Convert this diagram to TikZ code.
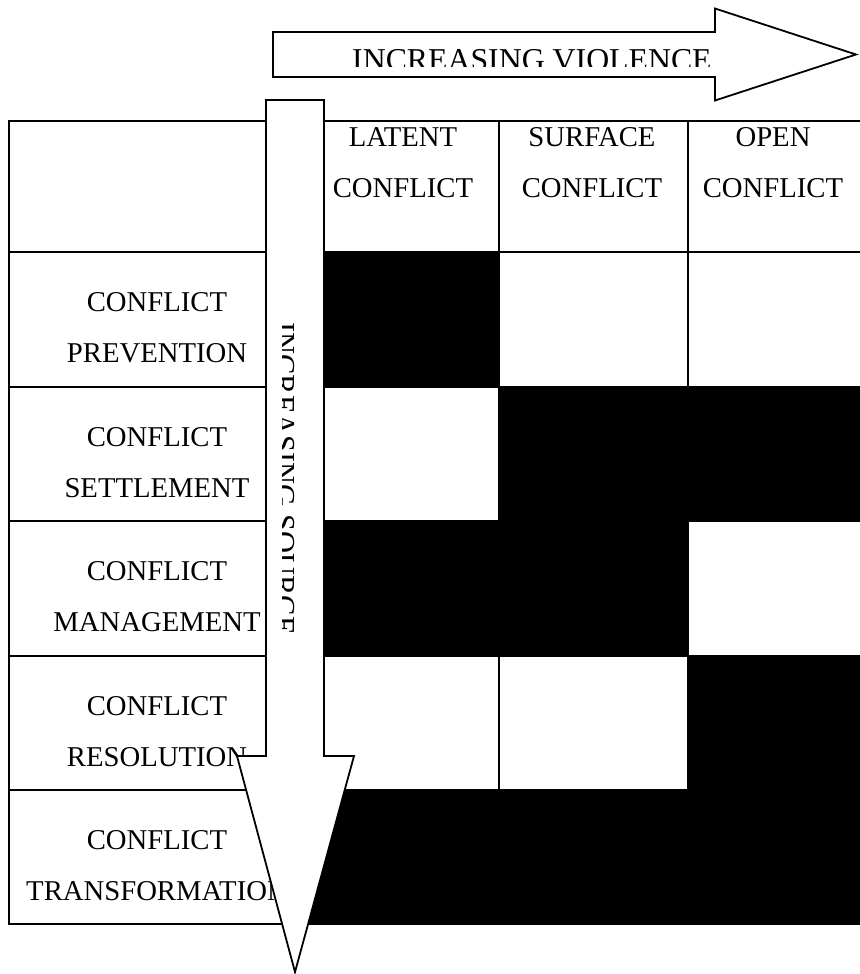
\documentclass[tikz,border=0pt]{standalone}
\usepackage{fontspec}
\setmainfont{Liberation Serif}
\usepackage{tikz}

\begin{document}
\begin{tikzpicture}[x=1pt, y=-1pt,
  cellnode/.style={rectangle, draw=black, line width=2.2pt, fill=white, anchor=north west, inner sep=0pt},
  darkcell/.style={cellnode, fill=black},
  celltext/.style={anchor=north, align=center, inner sep=0pt, font={\fontsize{28.7}{51}\selectfont}},
  blockarrow/.style={draw=black, line width=1.8pt, fill=white, line join=miter},
  arrowtext/.style={anchor=north west, inner sep=0pt, font={\fontsize{31.8}{36}\selectfont}}]
\useasboundingbox (0,0) rectangle (859,974);

\node[cellnode, minimum width=298pt, minimum height=131pt] (head-lab) at (8,120) {};
\node[cellnode, minimum width=192pt, minimum height=131pt] (head-lat) at (306,120) {};
\node[cellnode, minimum width=189pt, minimum height=131pt] (head-sur) at (498,120) {};
\node[cellnode, minimum width=173pt, minimum height=131pt] (head-opn) at (687,120) {};

\node[cellnode, minimum width=298pt, minimum height=135pt] (prev-lab) at (8,251) {};
\node[darkcell, minimum width=192pt, minimum height=135pt] (prev-lat) at (306,251) {};
\node[cellnode, minimum width=189pt, minimum height=135pt] (prev-sur) at (498,251) {};
\node[cellnode, minimum width=173pt, minimum height=135pt] (prev-opn) at (687,251) {};

\node[cellnode, minimum width=298pt, minimum height=134pt] (sett-lab) at (8,386) {};
\node[cellnode, minimum width=192pt, minimum height=134pt] (sett-lat) at (306,386) {};
\node[darkcell, minimum width=189pt, minimum height=134pt] (sett-sur) at (498,386) {};
\node[darkcell, minimum width=173pt, minimum height=134pt] (sett-opn) at (687,386) {};

\node[cellnode, minimum width=298pt, minimum height=135pt] (mana-lab) at (8,520) {};
\node[darkcell, minimum width=192pt, minimum height=135pt] (mana-lat) at (306,520) {};
\node[darkcell, minimum width=189pt, minimum height=135pt] (mana-sur) at (498,520) {};
\node[cellnode, minimum width=173pt, minimum height=135pt] (mana-opn) at (687,520) {};

\node[cellnode, minimum width=298pt, minimum height=134pt] (reso-lab) at (8,655) {};
\node[cellnode, minimum width=192pt, minimum height=134pt] (reso-lat) at (306,655) {};
\node[cellnode, minimum width=189pt, minimum height=134pt] (reso-sur) at (498,655) {};
\node[darkcell, minimum width=173pt, minimum height=134pt] (reso-opn) at (687,655) {};

\node[cellnode, minimum width=298pt, minimum height=134pt] (tran-lab) at (8,789) {};
\node[darkcell, minimum width=192pt, minimum height=134pt] (tran-lat) at (306,789) {};
\node[darkcell, minimum width=189pt, minimum height=134pt] (tran-sur) at (498,789) {};
\node[darkcell, minimum width=173pt, minimum height=134pt] (tran-opn) at (687,789) {};

\node[celltext] (lat-title) at (403,127) {LATENT\\CONFLICT};
\node[celltext] (sur-title) at (592,127) {SURFACE\\CONFLICT};
\node[celltext] (opn-title) at (773,127) {OPEN\\CONFLICT};

\node[celltext] (prev-title) at (157,292) {CONFLICT\\PREVENTION};
\node[celltext] (sett-title) at (157,427) {CONFLICT\\SETTLEMENT};
\node[celltext] (mana-title) at (157,561) {CONFLICT\\MANAGEMENT};
\node[celltext] (reso-title) at (157,696) {CONFLICT\\RESOLUTION};
\node[celltext] (tran-title) at (157,830) {CONFLICT\\TRANSFORMATION};

\draw[blockarrow] (273,32) -- (715,32) -- (715,8.5) -- (856,54.5) -- (715,100.5) -- (715,77) -- (273,77) -- cycle;
\begin{scope}
\clip (273,32) rectangle (715,67);
\node[arrowtext] (violence) at (352,49) {INCREASING VIOLENCE};
\end{scope}

\draw[blockarrow] (266,100) -- (324,100) -- (324,756) -- (354,756) -- (295,972) -- (237,756) -- (266,756) -- cycle;
\begin{scope}
\clip (282,100) rectangle (324,756);
\node[arrowtext, font={\fontsize{30.5}{36}\selectfont}, rotate=-90] (source) at (295,322) {INCREASING SOURCE};
\end{scope}

\end{tikzpicture}
\end{document}
